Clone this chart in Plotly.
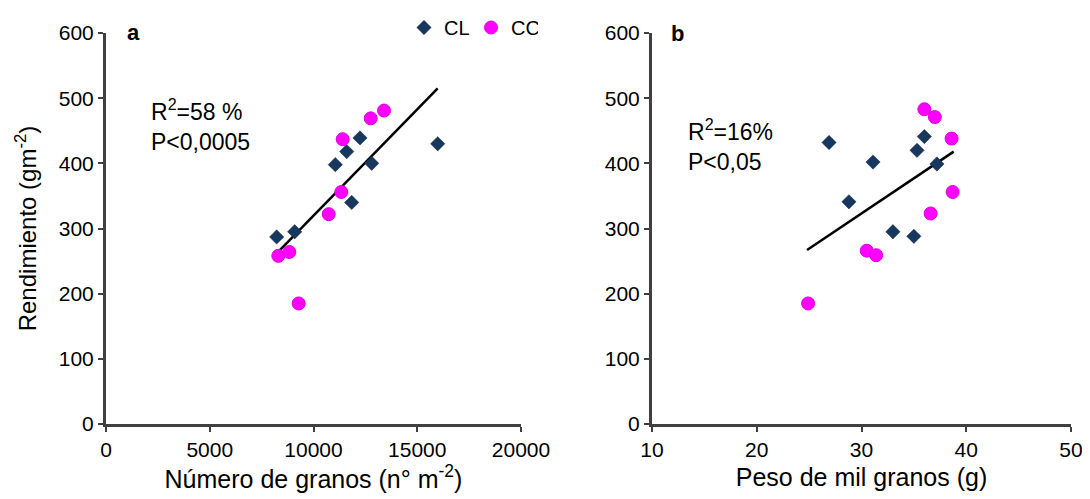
import plotly.graph_objects as go

# Panel a: Número de granos vs Rendimiento
a_cl_x = [8226, 9094, 11051, 11600, 12241, 12805, 11841, 15985]
a_cl_y = [287, 295, 398, 418, 439, 400, 340, 430]
a_cc_x = [8305, 8835, 9287, 10733, 11340, 11407, 12757, 13398]
a_cc_y = [258, 264, 185, 322, 356, 437, 469, 481]
a_trend_x = [8226, 15985]
a_trend_y = [262, 515]

# Panel b: Peso de mil granos vs Rendimiento
b_cl_x = [26.9, 28.8, 31.1, 33.0, 35.0, 35.3, 36.0, 37.2]
b_cl_y = [432, 341, 402, 295, 288, 420, 441, 399]
b_cc_x = [24.9, 30.5, 31.4, 36.0, 37.0, 38.6, 38.7, 36.6]
b_cc_y = [185, 266, 259, 483, 471, 438, 356, 323]
b_trend_x = [24.8, 38.8]
b_trend_y = [267, 418]

CL_COLOR = "#17375E"
CC_COLOR = "#FF00FF"
AX = "#404040"
FONT = "Liberation Sans, Arial, sans-serif"

W, H = 1090, 499
OFF = 8  # page body margin


def px(x):
    return (x - OFF) / W


def py(y):
    return 1 - (y - OFF) / H


fig = go.Figure()


def add_panel(xs_cl, ys_cl, xs_cc, ys_cc, tx, ty, xa, ya, show):
    fig.add_trace(go.Scatter(x=tx, y=ty, mode="lines", line=dict(color="black", width=2.5),
                             xaxis=xa, yaxis=ya, showlegend=False, hoverinfo="skip"))
    fig.add_trace(go.Scatter(x=xs_cl, y=ys_cl, mode="markers", name="CL",
                             marker=dict(symbol="diamond", size=11, color=CL_COLOR,
                                         line=dict(color="#10284A", width=0.5)),
                             xaxis=xa, yaxis=ya, showlegend=show))
    fig.add_trace(go.Scatter(x=xs_cc, y=ys_cc, mode="markers", name="CC",
                             marker=dict(symbol="circle", size=13, color=CC_COLOR,
                                         line=dict(color="#E000E0", width=1)),
                             xaxis=xa, yaxis=ya, showlegend=show))


add_panel(a_cl_x, a_cl_y, a_cc_x, a_cc_y, a_trend_x, a_trend_y, "x", "y", True)
add_panel(b_cl_x, b_cl_y, b_cc_x, b_cc_y, b_trend_x, b_trend_y, "x2", "y2", False)

axis_common = dict(showline=True, linecolor=AX, linewidth=3, ticks="outside",
                   tickcolor=AX, tickwidth=2, ticklen=5, showgrid=False, zeroline=False,
                   automargin=False)
xfont = dict(family=FONT, size=21, color="black")
yfont = dict(family=FONT, size=21, color="black")

ydom = [py(424), py(33)]
fig.update_layout(
    width=W, height=H,
    margin=dict(l=0, r=0, t=0, b=0),
    plot_bgcolor="white", paper_bgcolor="white",
    font=dict(family=FONT, color="black"),
    xaxis=dict(domain=[px(106), px(521)], range=[0, 20000], dtick=5000, tickformat="d",
               anchor="y", tickfont=xfont,
               title=dict(text="Número de granos (n° m<sup>-2</sup>)",
                          font=dict(size=25), standoff=9), **axis_common),
    yaxis=dict(domain=ydom, range=[0, 600], dtick=100, anchor="x", tickfont=yfont,
               title=dict(text="Rendimiento (gm<sup>-2</sup>)", font=dict(size=24), standoff=16),
               **axis_common),
    xaxis2=dict(domain=[px(652), px(1071)], range=[10, 50], dtick=10,
                anchor="y2", tickfont=xfont,
                title=dict(text="Peso de mil granos (g)", font=dict(size=25), standoff=9),
                **axis_common),
    yaxis2=dict(domain=ydom, range=[0, 600], dtick=100, anchor="x2", tickfont=yfont,
                **axis_common),
    legend=dict(orientation="h", x=px(404), y=py(8), xanchor="left", yanchor="top",
                font=dict(size=20), itemwidth=30, tracegroupgap=0, bgcolor="rgba(0,0,0,0)",
                entrywidth=22, entrywidthmode="pixels"),
    showlegend=True,
)

fig.add_annotation(text="<b>a</b>", xref="paper", yref="paper", x=px(125), y=py(32),
                   xanchor="left", yanchor="middle", showarrow=False, font=dict(size=22))
fig.add_annotation(text="<b>b</b>", xref="paper", yref="paper", x=px(669), y=py(33),
                   xanchor="left", yanchor="middle", showarrow=False, font=dict(size=22))
fig.add_annotation(text="R<sup>2</sup>=58 %<br>P<0,0005", xref="paper", yref="paper",
                   x=px(149), y=py(93), xanchor="left", yanchor="top", align="left",
                   showarrow=False, font=dict(size=23))
fig.add_annotation(text="R<sup>2</sup>=16%<br>P<0,05", xref="paper", yref="paper",
                   x=px(686), y=py(113), xanchor="left", yanchor="top", align="left",
                   showarrow=False, font=dict(size=23))

fig.write_html("out.html")
